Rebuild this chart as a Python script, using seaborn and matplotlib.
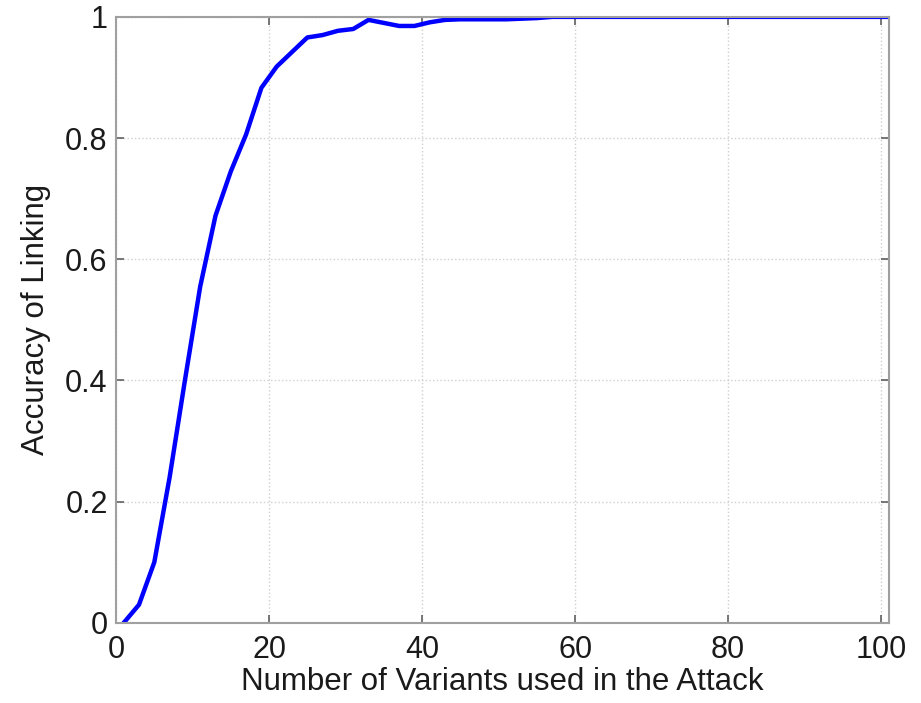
import numpy as np
import pandas as pd
import matplotlib
matplotlib.use("Agg")
import matplotlib.pyplot as plt
import seaborn as sns

# ===============================
# DATA
# ===============================

variants = [1, 3, 5, 7, 9, 11, 13, 15, 17, 19,
            21, 23, 25, 27, 29, 31, 33, 35, 37, 39,
            41, 43, 45, 47, 49, 51, 53, 55, 57, 59,
            61, 63, 65, 67, 69, 71, 73, 75, 77, 79,
            81, 83, 85, 87, 89, 91, 93, 95, 97, 99, 101]

accuracy = [0.0, 0.03, 0.10, 0.24, 0.40, 0.555, 0.672, 0.745, 0.806, 0.883,
            0.918, 0.942, 0.966, 0.970, 0.977, 0.980, 0.995, 0.990, 0.985, 0.985,
            0.991, 0.995, 0.996, 0.996, 0.996, 0.996, 0.997, 0.998, 1.0, 1.0,
            1.0, 1.0, 1.0, 1.0, 1.0, 1.0, 1.0, 1.0, 1.0, 1.0,
            1.0, 1.0, 1.0, 1.0, 1.0, 1.0, 1.0, 1.0, 1.0, 1.0, 1.0]

x_ticks = [0, 20, 40, 60, 80, 100]
y_ticks = [0, 0.2, 0.4, 0.6, 0.8, 1]
y_tick_labels = ["0", "0.2", "0.4", "0.6", "0.8", "1"]

df = pd.DataFrame({"Variants": variants, "Accuracy": accuracy})

# ===============================
# STYLE
# ===============================

sns.set_style("white")
plt.rcParams["font.family"] = ["Liberation Sans", "DejaVu Sans"]

fig = plt.figure(figsize=(9.21, 7.03), dpi=100)
ax = fig.add_axes([0.126, 0.114, 0.839, 0.862])

sns.lineplot(data=df, x="Variants", y="Accuracy", ax=ax,
             color="#0000ff", linewidth=3.2)

ax.set_xlim(0, 101)
ax.set_ylim(0, 1)
ax.set_xticks(x_ticks)
ax.set_yticks(y_ticks)
ax.set_yticklabels(y_tick_labels)

ax.grid(True, linestyle=":", color="#cfcfcf", linewidth=1.0)

for side in ["left", "right", "top", "bottom"]:
    ax.spines[side].set_visible(True)
    ax.spines[side].set_color("#a0a0a0")
    ax.spines[side].set_linewidth(1.5)

ax.tick_params(direction="in", length=6, width=1.2, colors="#606060",
               labelcolor="#1a1a1a", labelsize=22, top=True, right=True,
               bottom=True, left=True)
ax.tick_params(axis="x", pad=9)
ax.tick_params(axis="y", pad=6)

ax.set_xlabel("Number of Variants used in the Attack", fontsize=22.5,
              color="#1a1a1a", labelpad=1)
ax.set_ylabel("Accuracy of Linking", fontsize=22.5, color="#1a1a1a", labelpad=10)

fig.savefig("out.png", dpi=100)
